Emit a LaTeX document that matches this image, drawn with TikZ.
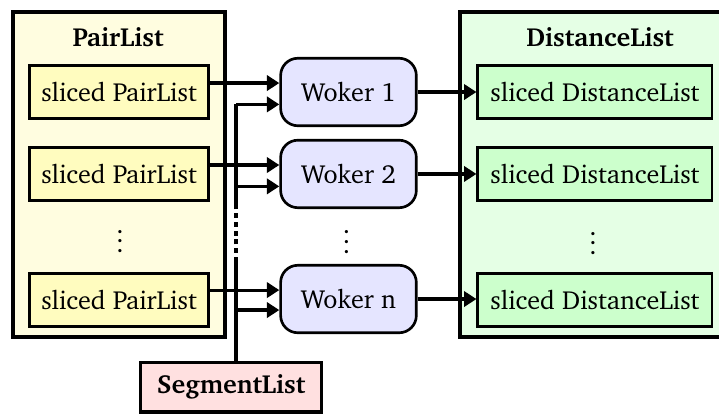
\documentclass[tikz,border=0pt]{standalone}
\usepackage[T1]{fontenc}
\usepackage{charter}
\usepackage{tikz}
\usetikzlibrary{arrows.meta}

\begin{document}
\begin{tikzpicture}
  [
    font=\fontsize{10.8}{13}\selectfont,
    outerbox/.style={draw, line width=1.4pt, minimum height=4.72cm},
    slicebox/.style={draw, line width=0.9pt, minimum height=0.77cm},
    workerbox/.style={draw, line width=1.1pt, fill=blue!10, rounded corners=0.25cm,
      minimum width=1.97cm, minimum height=0.98cm},
    arr/.style={line width=1.3pt, -{Triangle[length=0.18cm, width=0.22cm]}},
    busline/.style={line width=1.3pt},
    titletext/.style={font=\fontsize{10.8}{13}\selectfont\bfseries}
  ]

  \useasboundingbox (0,0) rectangle (10.44,-6.04);
  \clip (0,0) rectangle (10.44,-6.04);

  % the two lists
  \node[outerbox, fill=yellow!12, minimum width=3.08cm] (pairs) at (1.728,-2.534) {};
  \node[outerbox, fill=green!10, minimum width=4.07cm] (dists) at (8.712,-2.534) {};
  \node[titletext] (pairtitle) at (1.713,-0.537) {PairList};
  \node[titletext] (disttitle) at (8.712,-0.537) {DistanceList};

  % slices of the pair list
  \node[slicebox, fill=yellow!25, minimum width=2.6cm] (p1) at (1.728,-1.336) {sliced PairList};
  \node[slicebox, fill=yellow!25, minimum width=2.6cm] (p2) at (1.728,-2.526) {sliced PairList};
  \node (pdots) at (1.742,-3.40) {$\vdots$};
  \node[slicebox, fill=yellow!25, minimum width=2.6cm] (pn) at (1.728,-4.356) {sliced PairList};

  % workers
  \node[workerbox] (w1) at (5.06,-1.336) {Woker 1};
  \node[workerbox] (w2) at (5.06,-2.526) {Woker 2};
  \node (wdots) at (5.03,-3.41) {$\vdots$};
  \node[workerbox] (wn) at (5.06,-4.342) {Woker n};

  % slices of the distance list
  \node[slicebox, fill=green!20, minimum width=3.41cm] (d1) at (8.639,-1.336) {sliced DistanceList};
  \node[slicebox, fill=green!20, minimum width=3.41cm] (d2) at (8.639,-2.526) {sliced DistanceList};
  \node (ddots) at (8.61,-3.43) {$\vdots$};
  \node[slicebox, fill=green!20, minimum width=3.41cm] (dn) at (8.639,-4.356) {sliced DistanceList};

  \node[draw, line width=1.4pt, fill=red!12, minimum width=2.62cm, minimum height=0.72cm,
    titletext] (seg) at (3.354,-5.62) {SegmentList};

  % inputs of the workers
  \coordinate (bus) at (3.427,0);
  \coordinate (gapa) at (0,-3.02);
  \coordinate (gapb) at (0,-3.80);
  \coordinate (w1a) at ([yshift=0.13cm]w1.west);
  \coordinate (w1b) at ([yshift=-0.18cm]w1.west);
  \coordinate (w2a) at ([yshift=0.13cm]w2.west);
  \coordinate (w2b) at ([yshift=-0.18cm]w2.west);
  \coordinate (wna) at ([yshift=0.13cm]wn.west);
  \coordinate (wnb) at ([yshift=-0.16cm]wn.west);

  \draw[busline] (seg.north -| bus) -- (bus |- gapb);
  \draw[busline, dash pattern=on 2pt off 1.6pt] (bus |- gapb) -- (bus |- gapa);
  \draw[busline] (bus |- gapa) -- (bus |- w1b);

  \draw[arr] (p1.east |- w1a) -- (w1a);
  \draw[arr] (bus |- w1b) -- (w1b);
  \draw[arr] (p2.east |- w2a) -- (w2a);
  \draw[arr] (bus |- w2b) -- (w2b);
  \draw[arr] (pn.east |- wna) -- (wna);
  \draw[arr] (bus |- wnb) -- (wnb);

  % outputs
  \draw[arr] (w1.east) -- (d1.west |- w1.east);
  \draw[arr] (w2.east) -- (d2.west |- w2.east);
  \draw[arr] (wn.east) -- (dn.west |- wn.east);
\end{tikzpicture}
\end{document}
